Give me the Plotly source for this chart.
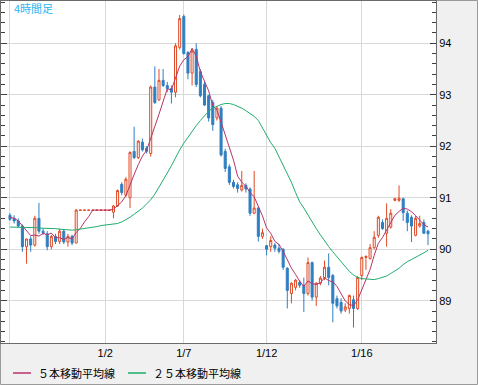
import plotly.graph_objects as go
import pandas as pd

# ---------------- data (4-hour candles) ----------------
opens = [90.66, 90.60, 90.55, 90.45, 90.05, 90.20, 90.08, 90.60, 90.35, 90.30,
         90.05, 90.25, 90.15, 90.35, 90.14, 90.25, 90.12,
         90.755, 90.755, 90.755, 90.755, 90.755, 90.755, 90.755, 90.755,
         90.72, 90.84, 91.26, 91.05, 91.00, 91.90, 91.78, 92.08, 91.96, 91.86,
         93.15, 92.90, 93.28, 93.18, 93.12, 93.05, 93.92, 94.52, 93.82, 93.42,
         93.88, 93.45, 93.20, 92.98, 92.85, 92.55, 92.74, 91.90, 91.60, 91.30,
         91.25, 91.15, 91.24, 91.17, 90.70, 90.80, 90.25, 90.07, 90.05, 90.08,
         90.02, 90.00, 89.63, 89.14, 89.26, 89.36, 89.30, 89.14, 89.74, 89.07,
         89.34, 89.45, 89.65, 89.49, 89.04, 88.97, 88.82, 88.85, 89.02, 88.85,
         89.49, 89.84, 89.82, 90.03, 90.27, 90.52, 90.31, 90.43, 90.95, 90.95,
         90.98, 90.70, 90.62, 90.27, 90.45, 90.52, 90.35]
highs = [90.70, 90.66, 90.60, 90.48, 90.20, 90.25, 90.65, 90.90, 90.40, 90.35,
         90.28, 90.30, 90.40, 90.38, 90.30, 90.28, 90.78,
         90.76, 90.76, 90.76, 90.76, 90.76, 90.76, 90.76, 90.76,
         90.86, 91.16, 91.30, 91.40, 91.90, 92.38, 92.12, 92.15, 92.00, 93.18,
         93.55, 93.50, 93.50, 93.25, 93.18, 94.00, 94.55, 94.56, 93.85, 93.90,
         94.00, 93.50, 93.25, 93.00, 92.90, 92.78, 92.78, 91.95, 91.65, 91.35,
         91.30, 91.52, 91.28, 91.20, 91.52, 90.83, 90.40, 90.08, 90.25, 90.12,
         90.10, 90.02, 89.65, 89.36, 89.42, 89.40, 89.45, 89.84, 89.76, 89.36,
         89.48, 89.78, 89.92, 89.52, 89.10, 89.05, 88.95, 89.12, 89.10, 89.48,
         89.86, 89.88, 90.10, 90.35, 90.65, 90.58, 90.89, 90.78, 91.00, 91.24,
         91.00, 90.75, 90.66, 90.65, 90.65, 90.58, 90.38]
lows = [90.55, 90.50, 90.42, 89.95, 89.72, 89.95, 90.05, 90.30, 90.28, 89.98,
        90.00, 90.10, 90.10, 90.10, 90.05, 90.08, 90.12,
        90.75, 90.75, 90.75, 90.75, 90.75, 90.75, 90.75, 90.75,
        90.60, 90.82, 91.05, 91.02, 90.80, 91.75, 91.75, 91.90, 91.86, 91.80,
        92.82, 92.88, 93.15, 93.05, 92.83, 92.95, 93.88, 93.78, 93.30, 93.18,
        93.15, 92.95, 92.78, 92.48, 92.30, 92.50, 91.80, 91.50, 91.25, 91.18,
        91.10, 91.12, 91.10, 90.65, 90.68, 90.15, 90.20, 89.88, 89.95, 89.95,
        89.92, 89.60, 88.85, 88.95, 89.20, 89.25, 88.78, 89.10, 89.00, 88.90,
        89.30, 89.40, 89.30, 88.58, 88.85, 88.75, 88.78, 88.75, 88.48, 88.82,
        89.40, 89.60, 89.80, 90.00, 90.22, 90.38, 90.05, 90.40, 90.93, 90.92,
        90.55, 90.35, 90.14, 90.25, 90.42, 90.30, 90.08]
closes = [90.58, 90.55, 90.45, 90.05, 90.20, 90.08, 90.60, 90.35, 90.32, 90.05,
          90.25, 90.15, 90.35, 90.14, 90.25, 90.12, 90.76,
          90.76, 90.76, 90.76, 90.76, 90.76, 90.76, 90.76, 90.76,
          90.84, 91.14, 91.10, 91.36, 91.88, 91.78, 92.10, 91.93, 91.90, 93.15,
          92.85, 93.28, 93.18, 93.12, 93.05, 93.95, 94.48, 93.80, 93.42, 93.85,
          93.20, 92.98, 92.80, 92.55, 92.42, 92.74, 91.83, 91.57, 91.30, 91.22,
          91.18, 91.24, 91.17, 90.70, 90.80, 90.25, 90.32, 90.00, 90.17, 90.02,
          89.96, 89.65, 89.20, 89.34, 89.40, 89.30, 89.14, 89.74, 89.07, 89.34,
          89.44, 89.65, 89.45, 88.95, 88.90, 88.80, 88.88, 89.10, 88.85, 89.45,
          89.84, 89.86, 90.03, 90.23, 90.62, 90.40, 90.60, 90.70, 90.98, 90.99,
          90.71, 90.52, 90.45, 90.60, 90.50, 90.31, 90.30]

# first values of the 5-period average (earlier candles are off-chart)
ma5_head = [90.62, 90.60, 90.55, 90.45]

# 25-period moving average
ma25 = [90.43, 90.43, 90.43, 90.43, 90.42, 90.42, 90.42, 90.41, 90.41, 90.41,
        90.40, 90.40, 90.39, 90.38, 90.38, 90.37, 90.38, 90.39, 90.40, 90.41,
        90.42, 90.44, 90.46, 90.47, 90.48, 90.48, 90.50, 90.53, 90.57, 90.62,
        90.68, 90.74, 90.80, 90.88, 90.96, 91.07, 91.20, 91.35, 91.48, 91.62,
        91.78, 91.93, 92.06, 92.18, 92.30, 92.40, 92.50, 92.60, 92.68, 92.74,
        92.78, 92.81, 92.83, 92.83, 92.81, 92.78, 92.74, 92.69, 92.64, 92.58,
        92.50, 92.35, 92.22, 92.07, 91.96, 91.80, 91.63, 91.48, 91.30, 91.10,
        90.92, 90.80, 90.66, 90.53, 90.40, 90.28, 90.16, 90.05, 89.95, 89.85,
        89.75, 89.65, 89.57, 89.50, 89.45, 89.43, 89.42, 89.41, 89.41, 89.43,
        89.45, 89.48, 89.53, 89.58, 89.63, 89.70, 89.76, 89.80, 89.84, 89.88,
        89.93, 89.98]

tick_pos = [0, 23, 42, 62, 85]
tick_labels = ["", "1/2", "1/7", "1/12", "1/16"]

title_label = "4時間足"
legend_names = ["５本移動平均線", "２５本移動平均線"]

# ---------------- derived ----------------
n = len(closes)
idx = list(range(n))
ma5 = pd.Series(closes).rolling(5).mean().tolist()
ma5[:len(ma5_head)] = ma5_head

UP = "#e04a24"
DOWN = "#2f7fc1"
MA5_C = "#b8336a"
MA25_C = "#1fae6c"

fig = go.Figure()
fig.add_trace(go.Candlestick(
    x=idx, open=opens, high=highs, low=lows, close=closes,
    increasing=dict(line=dict(color=UP, width=1), fillcolor="white"),
    decreasing=dict(line=dict(color=DOWN, width=1), fillcolor=DOWN),
    whiskerwidth=0, showlegend=False, hoverinfo="skip"))
fig.add_trace(go.Scatter(x=idx, y=ma5, mode="lines",
                         line=dict(color=MA5_C, width=1), showlegend=False,
                         hoverinfo="skip"))
fig.add_trace(go.Scatter(x=idx, y=ma25, mode="lines",
                         line=dict(color=MA25_C, width=1), showlegend=False,
                         hoverinfo="skip"))

W, H = 478, 385
ml, mr, mt, mb = 1, 42, 1, 42
pw, ph = W - ml - mr, H - mt - mb


def px(x):
    return (x - ml) / pw


def py(y):
    return (H - mb - y) / ph


fig.update_layout(
    width=W, height=H,
    margin=dict(l=ml, r=mr, t=mt, b=mb, pad=0),
    paper_bgcolor="#f0f0f0", plot_bgcolor="white",
    font=dict(family="Liberation Sans, Arial, sans-serif", size=11, color="#000"),
    showlegend=False,
    xaxis=dict(range=[-2.17, 102.93], tickvals=tick_pos, ticktext=tick_labels,
               showgrid=True, gridcolor="#d9d9d9", gridwidth=1, ticks="",
               showline=True, mirror=True, linecolor="#6a6a6a", linewidth=1,
               zeroline=False, rangeslider=dict(visible=False),
               tickfont=dict(size=11, color="#000")),
    yaxis=dict(range=[88.179, 94.821], side="right", dtick=1, tick0=0,
               showgrid=True, gridcolor="#d9d9d9", gridwidth=1,
               ticks="inside", ticklen=6, tickcolor="#404040",
               showline=True, mirror="ticks", linecolor="#6a6a6a", linewidth=1,
               zeroline=False, tickfont=dict(size=11, color="#000"),
               minor=dict(ticks="inside", ticklen=4, dtick=0.2,
                          tickcolor="#404040", showgrid=False)),
)

# frame around the whole picture
fig.add_shape(type="rect", xref="paper", yref="paper",
              x0=px(0.5), x1=px(W - 0.5), y0=py(H - 0.5), y1=py(0.5),
              line=dict(color="#9a9a9a", width=1), layer="below")

# label in the top-left corner
fig.add_annotation(x=px(12), y=py(8), xref="paper", yref="paper",
                   text=title_label, showarrow=False, xanchor="left",
                   yanchor="middle",
                   font=dict(family="Noto Sans CJK JP", size=11, color="#2bb5f0"))

# legend (drawn by hand to match the layout)
leg_y = py(373)
for (x0, x1, tx), name, col in zip([(13, 31, 36), (128, 146, 151)],
                                   legend_names, [MA5_C, MA25_C]):
    fig.add_shape(type="line", xref="paper", yref="paper",
                  x0=px(x0), x1=px(x1), y0=leg_y, y1=leg_y,
                  line=dict(color=col, width=1.5))
    fig.add_annotation(x=px(tx), y=leg_y, xref="paper", yref="paper",
                       text=name, showarrow=False, xanchor="left",
                       yanchor="middle",
                       font=dict(family="Noto Sans CJK JP", size=11, color="#000"))

fig.write_html("out.html", config={"displayModeBar": False},
               post_script="document.body.style.margin='0';"
                           "document.body.style.overflow='hidden';")
